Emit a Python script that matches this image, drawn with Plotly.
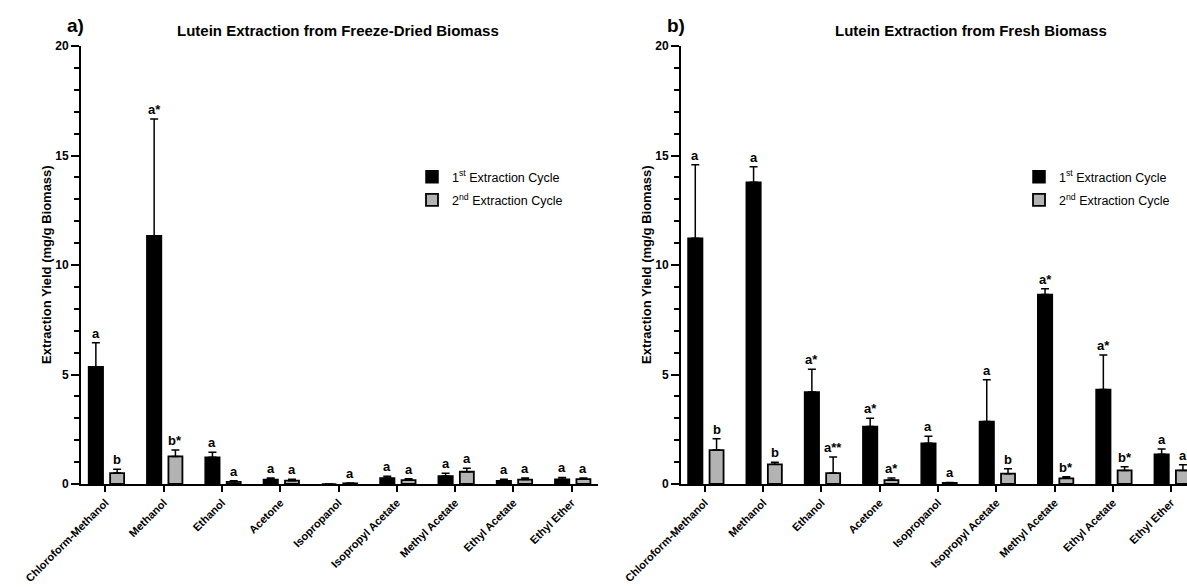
import plotly.graph_objects as go

W, H = 1187, 587

categories = ["Chloroform-Methanol", "Methanol", "Ethanol", "Acetone", "Isopropanol",
              "Isopropyl Acetate", "Methyl Acetate", "Ethyl Acetate", "Ethyl Ether"]

# Panel a: freeze-dried biomass
a_first = [5.35, 11.34, 1.22, 0.20, 0.0, 0.27, 0.37, 0.15, 0.22]
a_first_err = [1.10, 5.33, 0.23, 0.07, 0.0, 0.08, 0.12, 0.07, 0.08]
a_first_lbl = ["a", "a*", "a", "a", "", "a", "a", "a", "a"]
a_second = [0.50, 1.26, 0.10, 0.15, 0.03, 0.18, 0.56, 0.20, 0.22]
a_second_err = [0.17, 0.29, 0.05, 0.07, 0.02, 0.06, 0.16, 0.07, 0.05]
a_second_lbl = ["b", "b*", "a", "a", "a", "a", "a", "a", "a"]

# Panel b: fresh biomass
b_first = [11.22, 13.78, 4.20, 2.63, 1.86, 2.85, 8.65, 4.32, 1.36]
b_first_err = [3.36, 0.71, 1.04, 0.37, 0.32, 1.91, 0.27, 1.57, 0.24]
b_first_lbl = ["a", "a", "a*", "a*", "a", "a", "a*", "a*", "a"]
b_second = [1.55, 0.90, 0.50, 0.18, 0.05, 0.47, 0.26, 0.62, 0.62]
b_second_err = [0.52, 0.09, 0.73, 0.09, 0.02, 0.23, 0.07, 0.17, 0.26]
b_second_lbl = ["b", "b", "a**", "a*", "a", "b", "b*", "b*", "a"]

FONT = "Arial, Liberation Sans, sans-serif"
GRAY = "#b3b3b3"
OFF1, WID1 = -0.29, 0.25
OFF2, WID2 = 0.08, 0.24

fig = go.Figure()


def add_panel(first, ferr, second, serr, xa, ya, legend):
    fig.add_trace(go.Bar(
        x=categories, y=first, name="1<sup>st</sup> Extraction Cycle",
        marker=dict(color="black", line=dict(color="black", width=1.5)),
        offset=OFF1, width=WID1, xaxis=xa, yaxis=ya, legend=legend,
        legendgroup=legend + "1",
        error_y=dict(type="data", array=ferr, arrayminus=[0] * len(ferr), symmetric=False,
                     color="black", thickness=1.5, width=4)))
    fig.add_trace(go.Bar(
        x=categories, y=second, name="2<sup>nd</sup> Extraction Cycle",
        marker=dict(color=GRAY, line=dict(color="black", width=1.8)),
        offset=OFF2, width=WID2, xaxis=xa, yaxis=ya, legend=legend,
        legendgroup=legend + "2",
        error_y=dict(type="data", array=serr, arrayminus=[0] * len(serr), symmetric=False,
                     color="black", thickness=1.5, width=4)))


add_panel(a_first, a_first_err, a_second, a_second_err, "x", "y", "legend")
add_panel(b_first, b_first_err, b_second, b_second_err, "x2", "y2", "legend2")

annotations = []


def add_labels(first, ferr, flbl, second, serr, slbl, xref, yref):
    for i in range(len(categories)):
        for val, err, lbl, c in ((first[i], ferr[i], flbl[i], OFF1 + WID1 / 2),
                                 (second[i], serr[i], slbl[i], OFF2 + WID2 / 2)):
            if not lbl:
                continue
            annotations.append(dict(
                x=i + c, y=val + err, xref=xref, yref=yref, text=lbl, showarrow=False,
                yanchor="bottom", xanchor="center", yshift=0,
                font=dict(family=FONT, size=13, color="black", weight="bold")))


add_labels(a_first, a_first_err, a_first_lbl, a_second, a_second_err, a_second_lbl, "x", "y")
add_labels(b_first, b_first_err, b_first_lbl, b_second, b_second_err, b_second_lbl, "x2", "y2")


def paper(px, py):
    return px / W, 1 - py / H


texts = [
    ("a)", 76, 25, 19, 0), ("b)", 676, 25, 19, 0),
    ("Lutein Extraction from Freeze-Dried Biomass", 338, 30, 15, 0),
    ("Lutein Extraction from Fresh Biomass", 971, 30, 15, 0),
    ("Extraction Yield (mg/g Biomass)", 46, 265, 13, -90),
    ("Extraction Yield (mg/g Biomass)", 646, 265, 13, -90),
]
for t, px, py, sz, ang in texts:
    x, y = paper(px, py)
    annotations.append(dict(x=x, y=y, xref="paper", yref="paper", text=t, showarrow=False,
                            xanchor="center", yanchor="middle", textangle=ang,
                            font=dict(family=FONT, size=sz, color="black", weight="bold")))

y0 = 1 - 484 / H
y1 = 1 - 46 / H

xaxis_common = dict(
    showline=True, linewidth=2, linecolor="black", ticks="outside", ticklen=6, tickwidth=1.5,
    tickcolor="black", tickangle=-45, showgrid=False, zeroline=False, automargin=False,
    tickfont=dict(family=FONT, size=11, color="black", weight="bold"), type="category")
yaxis_common = dict(
    range=[0, 20], showline=True, linewidth=2, linecolor="black", ticks="outside", ticklen=8,
    tickwidth=1.5, tickcolor="black", dtick=5, showgrid=False, zeroline=False, automargin=False,
    tickfont=dict(family=FONT, size=12, color="black", weight="bold"),
    minor=dict(dtick=1, ticks="outside", ticklen=5, tickwidth=1.5, tickcolor="black", showgrid=False),
    domain=[y0, y1])

legend_common = dict(font=dict(family=FONT, size=12.5, color="black"), bgcolor="rgba(0,0,0,0)",
                     traceorder="grouped", tracegroupgap=4, xanchor="left", yanchor="top")

lx, ly = paper(412, 162)
l2x, l2y = paper(1019, 162)

fig.update_layout(
    width=W, height=H, margin=dict(l=0, r=0, t=0, b=0, autoexpand=False),
    paper_bgcolor="white", plot_bgcolor="white",
    barmode="group",
    xaxis=dict(domain=[81 / W, 598 / W], range=[-0.42, 8.45], anchor="y", **xaxis_common),
    yaxis=dict(anchor="x", **yaxis_common),
    xaxis2=dict(domain=[681 / W, 1.0], range=[-0.41, 8.27], anchor="y2", **xaxis_common),
    yaxis2=dict(anchor="x2", **yaxis_common),
    legend=dict(x=lx, y=ly, **legend_common),
    legend2=dict(x=l2x, y=l2y, **legend_common),
    annotations=annotations,
    font=dict(family=FONT, color="black"),
)

fig.write_html("out.html")
